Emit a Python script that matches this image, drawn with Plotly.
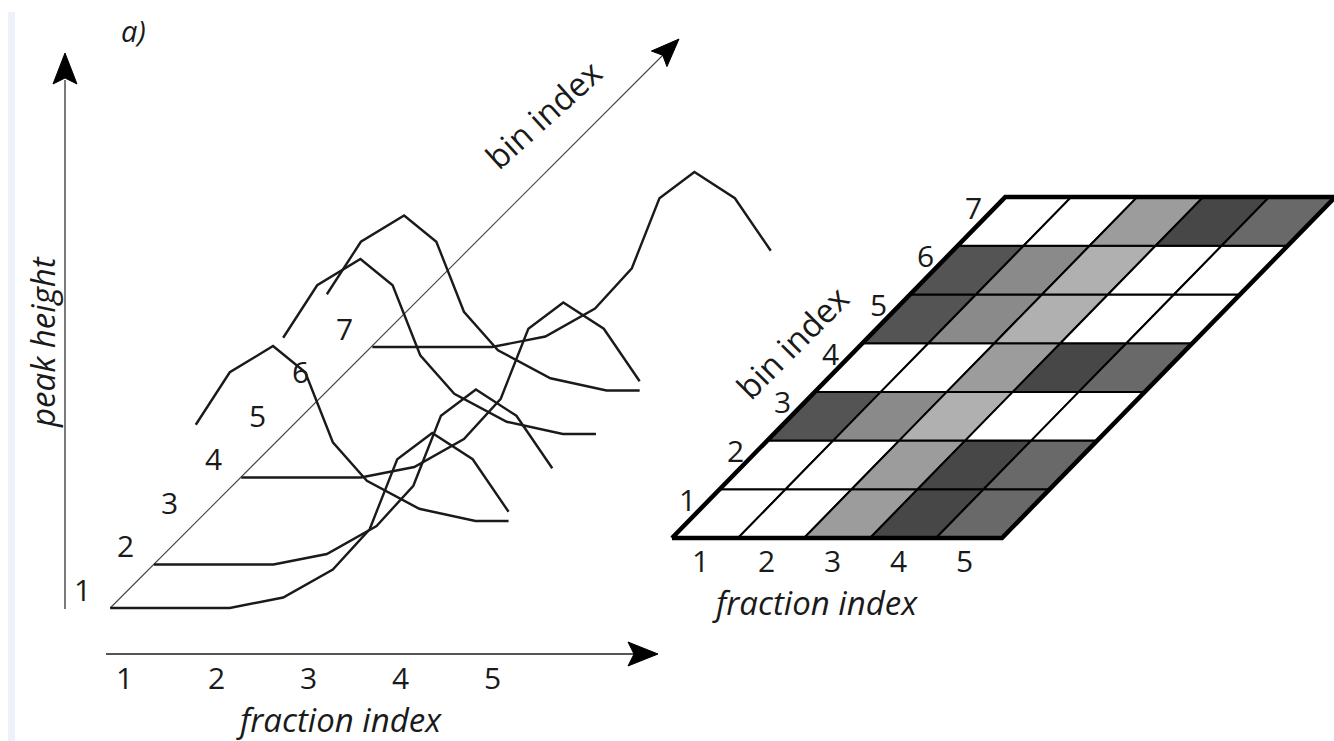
import plotly.graph_objects as go

# ------------------------------------------------------------------ data
fractions = [1, 2, 3, 4, 5]
bins = [1, 2, 3, 4, 5, 6, 7]
fraction_labels = ["1", "2", "3", "4", "5"]
bin_labels = ["1", "2", "3", "4", "5", "6", "7"]

# which elution profile each bin follows
bin_profile = ["late", "late", "early", "late", "early", "early", "late"]

# peak-height profiles (fraction position, peak height) for the two shapes
late_fraction = [0.85, 2.15, 2.73, 3.27, 3.67, 3.97, 4.35, 4.79, 5.18]
late_height = [0.0, 0.0, 0.6, 2.2, 4.5, 8.5, 10.0, 8.5, 5.5]
early_fraction = [0.83, 1.20, 1.67, 2.02, 2.32, 2.69, 3.26, 3.87, 4.23]
early_height = [5.5, 8.5, 10.0, 8.5, 4.5, 2.3, 0.7, 0.0, 0.0]

# binned intensity per fraction (0 = white, 1 = black) for each profile
late_intensity = [0.0, 0.0, 0.39, 0.72, 0.59]
early_intensity = [0.67, 0.46, 0.31, 0.0, 0.0]

profiles = {
    "late": (late_fraction, late_height, late_intensity),
    "early": (early_fraction, early_height, early_intensity),
}

# ------------------------------------------------------------------ layout constants (pixels)
FONT = "Open Sans"
INK = "#1a1a1a"
NUM_SIZE = 30
TXT_SIZE = 33

# left pseudo-3D panel
L_X0, L_FX, L_BX = 124.0, 92.0, 43.7
L_Y0, L_HY, L_BY = 608.0, 17.5, 43.5

# right skewed heat grid
H_X0, H_Y0 = 672.0, 538.0
H_CW, H_RX, H_RY = 66.0, 47.6, 48.7


def left_xy(f, h, b):
    return L_X0 + (f - 1) * L_FX + (b - 1) * L_BX, L_Y0 - h * L_HY - (b - 1) * L_BY


def grid_xy(i, j):
    # i: row line (0..7), j: column line (0..5)
    return H_X0 + j * H_CW + i * H_RX, H_Y0 - i * H_RY


def gray(v):
    g = int(round(255 * (1 - v)))
    return f"rgb({g},{g},{g})"


fig = go.Figure()

# faint page strip on the far left
fig.add_shape(type="rect", x0=8, x1=15, y0=12, y1=741, fillcolor="#edf2fa",
              line=dict(width=0), layer="below")


def arrowhead(tx, ty, dx, dy, length=30, half=12, notch=6):
    n = (dx * dx + dy * dy) ** 0.5
    ux, uy = dx / n, dy / n
    px, py = -uy, ux
    bx, by = tx - ux * length, ty - uy * length
    xs = [tx, bx + px * half, tx - ux * (length - notch), bx - px * half, tx]
    ys = [ty, by + py * half, ty - uy * (length - notch), by - py * half, ty]
    fig.add_trace(go.Scatter(x=xs, y=ys, mode="lines", fill="toself",
                             fillcolor="black", line=dict(color="black", width=1),
                             hoverinfo="skip"))


# ---- left panel axes
fig.add_trace(go.Scatter(x=[65, 65], y=[609, 80], mode="lines",
                         line=dict(color="#7a7a7a", width=2), hoverinfo="skip"))
arrowhead(65, 53, 0, -1, length=31, half=12, notch=6)

fig.add_trace(go.Scatter(x=[106, 636], y=[654, 654], mode="lines",
                         line=dict(color="#555555", width=2), hoverinfo="skip"))
arrowhead(658, 654, 1, 0, length=30, half=12, notch=6)

ox, oy = left_xy(late_fraction[0], 0, 1)
fig.add_trace(go.Scatter(x=[ox, 664], y=[oy, 54], mode="lines",
                         line=dict(color="#444444", width=1.1), hoverinfo="skip"))
arrowhead(679, 39, 1, -1, length=28, half=11, notch=5)

# ---- left panel curves
for b, prof in zip(bins, bin_profile):
    fr, ht, _ = profiles[prof]
    pts = [left_xy(f, h, b) for f, h in zip(fr, ht)]
    fig.add_trace(go.Scatter(x=[p[0] for p in pts], y=[p[1] for p in pts], mode="lines",
                             line=dict(color=INK, width=2.4), hoverinfo="skip"))

# bin labels along the diagonal
for b, lab in zip(bins, bin_labels):
    x, y = left_xy(late_fraction[0], 0, b)
    fig.add_annotation(x=x - 28, y=y - 19, text=lab, showarrow=False,
                       font=dict(family=FONT, size=NUM_SIZE, color=INK))

# fraction labels under the bottom axis
for f, lab in zip(fractions, fraction_labels):
    x, _ = left_xy(f, 0, 1)
    fig.add_annotation(x=x, y=677, text=lab, showarrow=False,
                       font=dict(family=FONT, size=NUM_SIZE, color=INK))

fig.add_annotation(x=339, y=719, text="<i>fraction index</i>", showarrow=False,
                   font=dict(family=FONT, size=TXT_SIZE, color=INK))
fig.add_annotation(x=42, y=342, text="<i>peak height</i>", showarrow=False, textangle=-90,
                   font=dict(family=FONT, size=TXT_SIZE, color=INK))
fig.add_annotation(x=543, y=114, text="bin index", showarrow=False, textangle=-42,
                   font=dict(family=FONT, size=TXT_SIZE, color=INK))
fig.add_annotation(x=133, y=30, text="<i>a)</i>", showarrow=False,
                   font=dict(family=FONT, size=29, color=INK))

# ---- right panel: skewed heat grid
for b, prof in zip(bins, bin_profile):
    vals = profiles[prof][2]
    for f, v in zip(fractions, vals):
        c = [grid_xy(b - 1, f - 1), grid_xy(b - 1, f), grid_xy(b, f), grid_xy(b, f - 1),
             grid_xy(b - 1, f - 1)]
        fig.add_trace(go.Scatter(x=[p[0] for p in c], y=[p[1] for p in c], mode="lines",
                                 fill="toself", fillcolor=gray(v),
                                 line=dict(color="black", width=2), hoverinfo="skip"))

nb, nf = len(bins), len(fractions)
outer = [grid_xy(0, 0), grid_xy(0, nf), grid_xy(nb, nf), grid_xy(nb, 0), grid_xy(0, 0)]
fig.add_trace(go.Scatter(x=[p[0] for p in outer], y=[p[1] for p in outer], mode="lines",
                         line=dict(color="black", width=4.5), hoverinfo="skip"))

for b, lab in zip(bins, bin_labels):
    x, y = grid_xy(b, 0)
    fig.add_annotation(x=x - 32, y=y + 10, text=lab, showarrow=False,
                       font=dict(family=FONT, size=NUM_SIZE, color=INK))

for f, lab in zip(fractions, fraction_labels):
    x0, y0 = grid_xy(0, f - 1)
    x1, _ = grid_xy(0, f)
    fig.add_annotation(x=(x0 + x1) / 2 - 5, y=560, text=lab, showarrow=False,
                       font=dict(family=FONT, size=NUM_SIZE, color=INK))

fig.add_annotation(x=815, y=602, text="<i>fraction index</i>", showarrow=False,
                   font=dict(family=FONT, size=TXT_SIZE, color=INK))
fig.add_annotation(x=792, y=342, text="bin index", showarrow=False, textangle=-45,
                   font=dict(family=FONT, size=TXT_SIZE, color=INK))

fig.update_xaxes(range=[0, 1334], visible=False, fixedrange=True)
fig.update_yaxes(range=[741, 0], visible=False, fixedrange=True)
fig.update_layout(width=1334, height=741, margin=dict(l=0, r=0, t=0, b=0),
                  plot_bgcolor="white", paper_bgcolor="white", showlegend=False)

fig.write_html("out.html", config={"displayModeBar": False},
               post_script="document.body.style.margin='0';")
